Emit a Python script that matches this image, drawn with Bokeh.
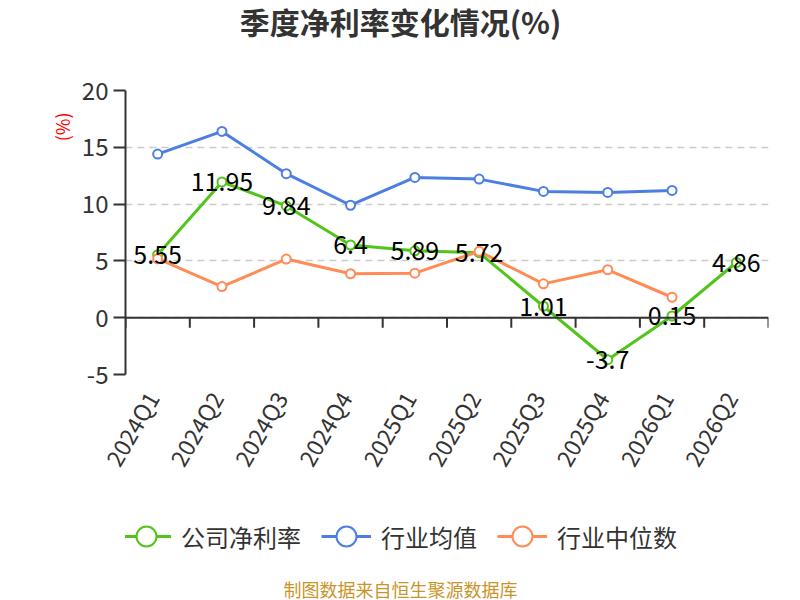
import math
from bokeh.plotting import figure
from bokeh.layouts import column
from bokeh.models import (Range1d, FixedTicker, Legend, LegendItem, ColumnDataSource,
                          Span, Title, Label)
from bokeh.embed import file_html
from bokeh.resources import INLINE
from bokeh.core.properties import value

# ---------------- data ----------------
quarters = ["2024Q1", "2024Q2", "2024Q3", "2024Q4", "2025Q1",
            "2025Q2", "2025Q3", "2025Q4", "2026Q1", "2026Q2"]
company_margin = [5.55, 11.95, 9.84, 6.4, 5.89, 5.72, 1.01, -3.7, 0.15, 4.86]
industry_avg = [14.4, 16.4, 12.68, 9.9, 12.35, 12.2, 11.12, 11.03, 11.2]
industry_median = [5.19, 2.74, 5.16, 3.87, 3.92, 5.84, 2.98, 4.22, 1.8]
y_ticks = [-5, 0, 5, 10, 15, 20]

title_text = "季度净利率变化情况(%)"
unit_text = "(%)"
source_text = "制图数据来自恒生聚源数据库"
names = ["公司净利率", "行业均值", "行业中位数"]

GREEN = "#52c41a"
BLUE = "#4d7fe3"
ORANGE = "#ff8c57"
FONT = "Noto Sans CJK SC"
W = 800
FRAME_LEFT = 125      # frames of the stacked figures are aligned to this edge
PAGE_CENTER = W / 2 - FRAME_LEFT
LABEL_SHIFT = -0.09   # rotated labels end right at their category, as in the original

xs = list(range(len(quarters)))


def bare_figure(height, x_range=None):
    f = figure(width=W, height=height, output_backend="svg", toolbar_location=None,
               x_axis_location=None, y_axis_location=None, title=None,
               x_range=x_range or Range1d(0, 1), y_range=Range1d(0, 1),
               min_border=0, min_border_left=0, min_border_right=0,
               min_border_top=0, min_border_bottom=0)
    f.outline_line_color = None
    f.grid.visible = False
    return f


def add_series(f, vals, color):
    src = ColumnDataSource(dict(x=xs[:len(vals)], y=vals))
    ln = f.line("x", "y", source=src, line_color=color, line_width=3)
    sc = f.scatter("x", "y", source=src, size=9, marker="circle",
                   fill_color="white", line_color=color, line_width=2)
    return [ln, sc]


# ---------------- title strip ----------------
top = bare_figure(60)
top.add_layout(Label(x=PAGE_CENTER, y=40, x_units="screen", y_units="screen",
                     text=title_text, text_font=FONT, text_font_size="30px",
                     text_font_style="bold", text_color="#333333",
                     text_align="center", text_baseline="middle"))

# ---------------- main chart ----------------
p = figure(width=W, height=450, output_backend="svg", toolbar_location=None, title=None,
           x_range=Range1d(-0.5, len(quarters) - 0.5),
           y_range=Range1d(y_ticks[0], y_ticks[-1]),
           min_border_left=FRAME_LEFT, min_border_right=32, min_border_top=30,
           min_border_bottom=136)
p.outline_line_color = None

p.yaxis.ticker = FixedTicker(ticks=y_ticks)
p.yaxis.major_label_overrides = {t: str(t) for t in y_ticks}
p.yaxis.axis_line_color = "#333333"
p.yaxis.axis_line_width = 2
p.yaxis.major_tick_line_color = "#333333"
p.yaxis.major_tick_line_width = 2
p.yaxis.major_tick_out = 12
p.yaxis.major_tick_in = 0
p.yaxis.minor_tick_line_color = None
p.yaxis.major_label_text_font = FONT
p.yaxis.major_label_text_font_size = "24px"
p.yaxis.major_label_text_color = "#333333"
p.yaxis.major_label_standoff = 5

p.add_layout(Title(text=unit_text, align="right", offset=22, standoff=8,
                   text_font=FONT, text_font_size="18px", text_font_style="normal",
                   text_color="#ff0000"), "left")

p.xgrid.grid_line_color = None
p.ygrid.ticker = FixedTicker(ticks=y_ticks)
p.ygrid.grid_line_color = "#cccccc"
p.ygrid.grid_line_width = 1.5
p.ygrid.grid_line_dash = "7 5"

label_pos = [i + LABEL_SHIFT for i in xs]
p.xaxis.ticker = FixedTicker(ticks=label_pos)
p.xaxis.major_label_overrides = {pos: q for pos, q in zip(label_pos, quarters)}
p.xaxis.axis_line_color = None
p.xaxis.major_tick_line_color = None
p.xaxis.minor_tick_line_color = None
p.xaxis.major_tick_out = 0
p.xaxis.major_tick_in = 0
p.xaxis.major_label_orientation = math.radians(60)
p.xaxis.major_label_standoff = 19
p.xaxis.major_label_text_font = FONT
p.xaxis.major_label_text_font_size = "23px"
p.xaxis.major_label_text_color = "#333333"

bounds = [i - 0.5 for i in xs] + [xs[-1] + 0.5]
p.add_layout(Span(location=0, dimension="width", line_color="#333333", line_width=2))
p.ray(x=bounds, y=[0] * len(bounds), length=10, length_units="screen",
      angle=-math.pi / 2, line_color="#333333", line_width=2)

add_series(p, company_margin, GREEN)
add_series(p, industry_avg, BLUE)
add_series(p, industry_median, ORANGE)

lab_src = ColumnDataSource(dict(x=xs, y=company_margin,
                                t=[f"{v:g}" for v in company_margin]))
p.text("x", "y", text="t", source=lab_src, text_align="center", text_baseline="middle",
       text_font=value(FONT), text_font_size="25px", text_color="#000000")

# ---------------- legend + source strip ----------------
bot = bare_figure(90, x_range=Range1d(-100, -99))  # series lie outside: only legend shows
r_c = add_series(bot, company_margin, GREEN)
r_a = add_series(bot, industry_avg, BLUE)
r_m = add_series(bot, industry_median, ORANGE)
legend = Legend(items=[LegendItem(label=names[0], renderers=r_c),
                       LegendItem(label=names[1], renderers=r_a),
                       LegendItem(label=names[2], renderers=r_m)],
                location=(-4, 39), orientation="horizontal",
                glyph_width=50, glyph_height=50, label_standoff=10, spacing=20,
                padding=0, margin=0, border_line_color=None, background_fill_alpha=0,
                label_text_font=FONT, label_text_font_size="24px",
                label_text_color="#333333")
bot.add_layout(legend)
bot.add_layout(Label(x=PAGE_CENTER, y=12, x_units="screen", y_units="screen",
                     text=source_text, text_font=FONT, text_font_size="18px",
                     text_color="#c8952b", text_align="center", text_baseline="middle"))

page = column(top, p, bot, spacing=0)
open("out.html", "w").write(file_html(page, INLINE))
